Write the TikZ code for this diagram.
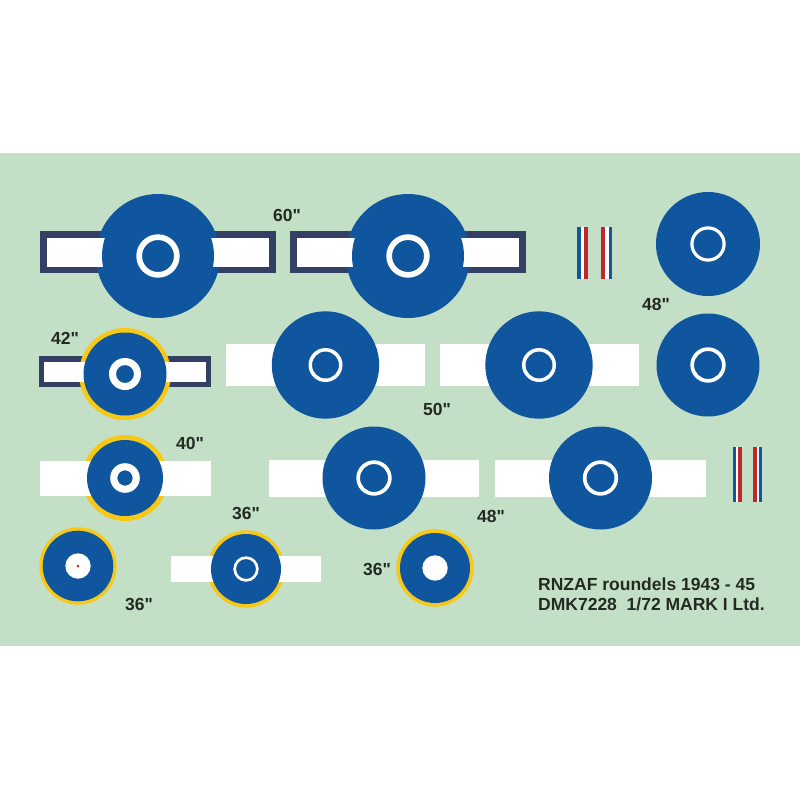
\documentclass[tikz,border=0pt]{standalone}
\usepackage{fontspec}
\setmainfont{Liberation Sans}[Ligatures=TeXOff]
\definecolor{panelgreen}{HTML}{C3E0C6}
\definecolor{discblue}{HTML}{0F569F}
\definecolor{bardark}{HTML}{333F63}
\definecolor{ringyellow}{HTML}{F7C815}
\definecolor{flashred}{HTML}{C0272D}
\definecolor{labelgrey}{HTML}{222A22}
\tikzset{
    sizelabel/.style={text=labelgrey, font=\fontsize{17.5}{19}\selectfont\bfseries, inner sep=0pt},
    titlelabel/.style={sizelabel, anchor=base west}
}
\begin{document}
\begin{tikzpicture}[x=1pt,y=-1pt]
        \useasboundingbox (0,0) rectangle (800,800);
        \fill[white] (0,0) rectangle (800,800);
        \fill[panelgreen] (0,153) rectangle (800,646);
        % dark outlined bars
        \foreach \xa/\xb/\ya/\yb in {40/276/231/273, 290/526/231/273, 39/211/356/387}
        \fill[bardark] (\xa,\ya) rectangle (\xb,\yb);
        % outer discs
        \foreach \x/\y/\r/\c in {158/256/62/discblue, 408/256/62/discblue,
            125/374/46/ringyellow, 125/478/43/ringyellow, 78/566/38.7/ringyellow,
            246/569/38.7/ringyellow, 435/568/38.7/ringyellow}
        \fill[\c] (\x,\y) circle (\r);
        % white bars
        \foreach \xa/\xb/\ya/\yb in {47/269/238/267, 297/519/238/267, 44/206/362/382,
            226/425/344/386, 440/638.5/344/386, 40/211/461/496,
            269/479/460/497, 495/706/460/497, 171/321/556/582}
        \fill[white] (\xa,\ya) rectangle (\xb,\yb);
        % blue discs
        \foreach \x/\y/\r in {158/256/56, 408/256/56, 708/244/52, 325.5/365/53.7, 539/365/53.7,
            708/365/51.5, 125/374/41.5, 125/478/38, 374/478/51.5, 600.5/478/51.5,
            78/566/35.3, 246/569/35, 435/568/35}
        \fill[discblue] (\x,\y) circle (\r);
        % white rings
        \foreach \x/\y/\ra/\rb in {158/256/21.7/16, 408/256/21.7/16, 708/244/17.7/14.5,
            325.5/365/17/13.5, 539/365/17/13.5, 708/365/17.7/14, 125/374/16/9, 125/478/14.8/7.7,
            374/478/17.7/14, 600.5/478/17.7/14, 246/569/12.7/10}
        \fill[white,even odd rule] (\x,\y) circle (\ra) circle (\rb);
        % plain centres
        \foreach \x/\y in {78/566, 435/568}
        \fill[white] (\x,\y) circle (12.7);
        \fill[flashred] (78,566) circle (1.5);
        % fin flashes
        \foreach \xa/\xb/\xc/\xd/\ya/\yb in {577/584/601/612/227/279, 732.5/738/753/762/447/502} {
            \fill[white] (\xa,\ya) rectangle (\xb+3.5,\yb);
            \fill[white] (\xc,\ya) rectangle (\xd,\yb);
            \fill[discblue] (\xa,\ya) rectangle (\xa+3.5,\yb);
            \fill[flashred] (\xb,\ya) rectangle (\xb+3.5,\yb);
            \fill[flashred] (\xc,\ya) rectangle (\xc+3.5,\yb);
            \fill[discblue] (\xd-3.5,\ya) rectangle (\xd,\yb);
        }
        % sizes
        \foreach \n/\x/\y/\t in {a/287/215/60, b/65/338/42, c/190/443/40, d/246/513/36,
            e/139/604/36, f/377/569/36, g/656/304/48, h/437/409/50, i/491/516/48}
        \node[sizelabel] (size\n) at (\x,\y) {\t"};
        \node[titlelabel] (titletop) at (538,590) {RNZAF roundels 1943 - 45};
        \node[titlelabel] (titlebottom) at (538,610) {DMK7228\ \ 1/72 MARK I Ltd.};
    \end{tikzpicture}
\end{document}
